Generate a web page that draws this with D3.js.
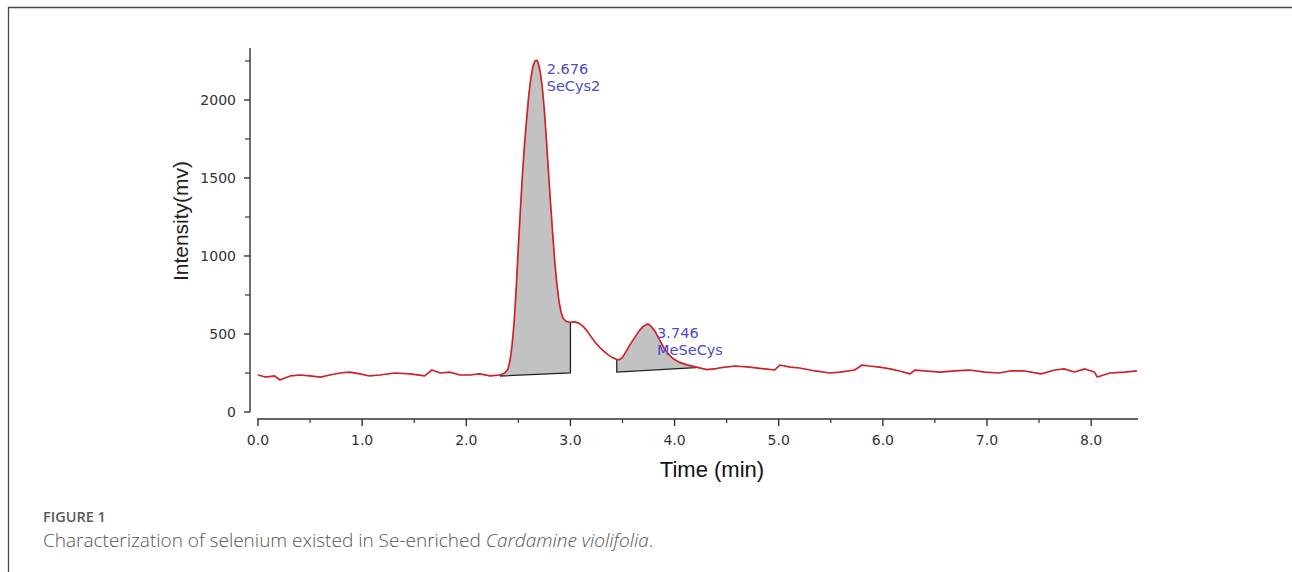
<!DOCTYPE html>
<html>
<head>
<meta charset="utf-8">
<script src="https://cdn.jsdelivr.net/npm/d3@7"></script>
<style>
  html, body { margin: 0; padding: 0; background: #fff; }
  svg { display: block; }
</style>
</head>
<body>
<svg id="chart" width="1292" height="572"></svg>
<script>
// ---- data ----
const times = [
  0.00,0.07,0.16,0.21,0.31,0.40,0.50,0.60,0.69,0.79,0.88,0.98,1.07,1.17,1.31,1.46,1.60,1.67,1.75,1.84,
  1.94,2.03,2.13,2.23,2.32,2.37,2.40,2.42,2.44,2.46,2.48,2.50,2.52,2.54,2.56,2.58,2.60,2.62,2.64,2.66,
  2.676,2.69,2.71,2.73,2.75,2.77,2.79,2.81,2.83,2.85,2.87,2.89,2.91,2.93,2.96,3.00,3.04,3.08,3.12,3.16,
  3.20,3.24,3.28,3.32,3.36,3.40,3.44,3.47,3.50,3.54,3.58,3.62,3.66,3.70,3.746,3.78,3.81,3.85,3.89,3.93,
  3.98,4.04,4.12,4.21,4.31,4.40,4.45,4.58,4.72,4.87,4.96,5.01,5.11,5.20,5.35,5.49,5.59,5.73,5.80,5.87,
  5.97,6.07,6.16,6.26,6.31,6.40,6.55,6.69,6.83,6.98,7.12,7.22,7.36,7.52,7.65,7.74,7.84,7.94,8.03,8.06,
  8.18,8.32,8.44
];
const intensity = [
  237,224,231,205,231,237,231,224,237,250,256,244,231,237,250,244,231,269,250,256,
  237,237,244,231,237,250,275,330,430,580,800,1060,1300,1530,1720,1880,2030,2140,2215,2250,
  2255,2240,2180,2080,1930,1740,1530,1330,1140,960,820,710,640,600,580,575,578,570,550,520,
  480,445,415,390,368,350,338,335,350,395,440,480,520,550,565,545,520,470,420,380,
  345,320,302,288,272,278,285,295,288,276,269,301,288,282,263,250,256,269,301,295,
  288,276,263,244,269,263,256,263,269,256,250,263,263,244,269,276,256,276,256,224,
  250,256,263
];
// integrated peaks: [start time, end time, baseline at start, baseline at end]
const peakNames = ["SeCys2", "MeSeCys"];
const peakRT = [2.676, 3.746];
const peakStart = [2.33, 3.445];
const peakEnd = [3.00, 4.20];
const peakBase0 = [231, 256];
const peakBase1 = [250, 285];

const xTicksMajor = [0,1,2,3,4,5,6,7,8];
const xTicksMinor = [0.5,1.5,2.5,3.5,4.5,5.5,6.5,7.5];
const yTicksMajor = [0,500,1000,1500,2000];
const yTicksMinor = [250,750,1250,1750,2250];

// ---- drawing ----
const svg = d3.select("#chart");

// frame
svg.append("line").attr("x1", 8).attr("x2", 1292).attr("y1", 7.5).attr("y2", 7.5)
  .attr("stroke", "#4a4a4a").attr("stroke-width", 1.6);
svg.append("line").attr("x1", 8.5).attr("x2", 8.5).attr("y1", 7).attr("y2", 572)
  .attr("stroke", "#4a4a4a").attr("stroke-width", 1.3);

const x = d3.scaleLinear().domain([0, 8.45]).range([258, 1138]);
const y = d3.scaleLinear().domain([0, 2333]).range([412, 48]);

// value at arbitrary time (linear between read points)
const interp = d3.scaleLinear().domain(times).range(intensity);

const data = times.map((t, i) => ({t, v: intensity[i]}));

// peak fills
peakStart.forEach((s, k) => {
  const e = peakEnd[k];
  const base = d3.scaleLinear().domain([s, e]).range([peakBase0[k], peakBase1[k]]);
  const pts = [{t: s, v: interp(s)}]
    .concat(data.filter(d => d.t > s && d.t < e))
    .concat([{t: e, v: interp(e)}]);
  const area = d3.area()
    .x(d => x(d.t))
    .y0(d => y(base(d.t)))
    .y1(d => y(Math.max(d.v, base(d.t))));
  svg.append("path").attr("d", area(pts))
    .attr("fill", "#c2c2c2").attr("stroke", "none");
  // baseline and drop lines
  svg.append("path")
    .attr("d", d3.line()([
      [x(s), y(Math.max(interp(s), base(s)))],
      [x(s), y(base(s))],
      [x(e), y(base(e))],
      [x(e), y(Math.max(interp(e), base(e)))]
    ]))
    .attr("fill", "none").attr("stroke", "#222").attr("stroke-width", 1.3);
});

// chromatogram trace
const line = d3.line().x(d => x(d.t)).y(d => y(d.v));
svg.append("path").attr("d", line(data))
  .attr("fill", "none").attr("stroke", "#e3222b").attr("stroke-width", 1.7)
  .attr("stroke-linejoin", "round");
svg.append("path").attr("d", line(data))
  .attr("fill", "none").attr("stroke", "#6a2a2a").attr("stroke-width", 0.5).attr("opacity", 0.5);

// peak labels
const labelDx = [10, 9];
peakRT.forEach((rt, k) => {
  const px = x(rt) + labelDx[k];
  const py = k === 0 ? 74 : 338;
  const g = svg.append("g").attr("font-family", "DejaVu Sans, Verdana, sans-serif")
    .attr("font-size", 14.5).attr("fill", "#4b4bc9");
  g.append("text").attr("x", px).attr("y", py).text(rt.toFixed(3));
  g.append("text").attr("x", px).attr("y", py + 16.5).text(peakNames[k]);
});

// Y axis
const yAxis = svg.append("g").attr("transform", "translate(250,0)");
yAxis.append("line").attr("x1", 0).attr("x2", 0).attr("y1", y(0)).attr("y2", 48)
  .attr("stroke", "#333").attr("stroke-width", 1.4);
yAxis.selectAll(".ymaj").data(yTicksMajor).enter().append("line")
  .attr("x1", -6).attr("x2", 0).attr("y1", d => y(d)).attr("y2", d => y(d))
  .attr("stroke", "#333").attr("stroke-width", 1.4);
yAxis.selectAll(".ymin").data(yTicksMinor).enter().append("line")
  .attr("x1", -5).attr("x2", 0).attr("y1", d => y(d)).attr("y2", d => y(d))
  .attr("stroke", "#333").attr("stroke-width", 1.2);
yAxis.selectAll(".ylab").data(yTicksMajor).enter().append("text")
  .attr("x", -14).attr("y", d => y(d)).attr("dy", "0.36em")
  .attr("text-anchor", "end").attr("font-family", "DejaVu Sans, Verdana, sans-serif")
  .attr("font-size", 14).attr("fill", "#333").text(d => d);

// X axis
const xAxis = svg.append("g").attr("transform", "translate(0,419)");
xAxis.append("line").attr("x1", x(0) - 1).attr("x2", 1138).attr("y1", 0).attr("y2", 0)
  .attr("stroke", "#333").attr("stroke-width", 1.4);
xAxis.selectAll(".xmaj").data(xTicksMajor).enter().append("line")
  .attr("x1", d => x(d)).attr("x2", d => x(d)).attr("y1", 0).attr("y2", 7)
  .attr("stroke", "#333").attr("stroke-width", 1.4);
xAxis.selectAll(".xmin").data(xTicksMinor).enter().append("line")
  .attr("x1", d => x(d)).attr("x2", d => x(d)).attr("y1", 0).attr("y2", 4)
  .attr("stroke", "#333").attr("stroke-width", 1.2);
xAxis.selectAll(".xlab").data(xTicksMajor).enter().append("text")
  .attr("x", d => x(d)).attr("y", 26)
  .attr("text-anchor", "middle").attr("font-family", "DejaVu Sans, Verdana, sans-serif")
  .attr("font-size", 14).attr("fill", "#333").text(d => d.toFixed(1));

// axis titles
svg.append("text").attr("transform", "translate(188,221) rotate(-90)")
  .attr("text-anchor", "middle").attr("font-family", "Liberation Sans, Arial, sans-serif")
  .attr("font-size", 21).attr("fill", "#222").text("Intensity(mv)");
svg.append("text").attr("x", 712).attr("y", 477)
  .attr("text-anchor", "middle").attr("font-family", "Liberation Sans, Arial, sans-serif")
  .attr("font-size", 22).attr("fill", "#111").text("Time (min)");

// caption
svg.append("text").attr("x", 43).attr("y", 522)
  .attr("font-family", "Open Sans, Noto Sans, sans-serif").attr("font-weight", 600)
  .attr("font-size", 14.5).attr("fill", "#5a5a5a").text("FIGURE 1");
const cap = svg.append("text").attr("x", 43).attr("y", 547)
  .attr("font-family", "Open Sans, Noto Sans, sans-serif").attr("font-weight", 300)
  .attr("font-size", 19).attr("fill", "#555");
cap.append("tspan").text("Characterization of selenium existed in Se-enriched ");
cap.append("tspan").attr("font-style", "italic").text("Cardamine violifolia");
cap.append("tspan").text(".");
</script>
</body>
</html>
